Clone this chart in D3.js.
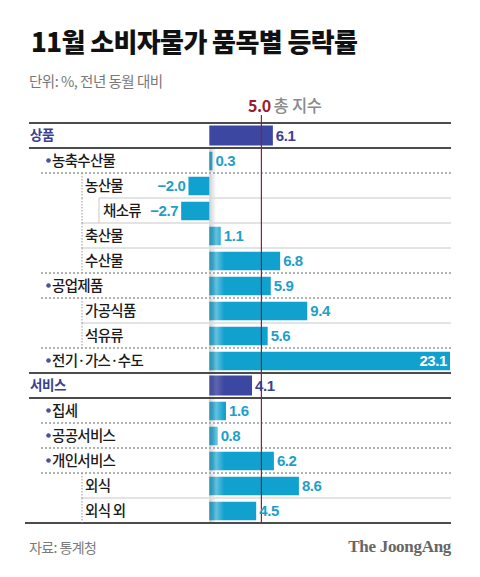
<!DOCTYPE html>
<html><head><meta charset="utf-8">
<script src="https://cdn.jsdelivr.net/npm/d3@7"></script>
<style>
html,body{margin:0;padding:0;background:#fff;}
svg{display:block;}
</style>
</head><body>
<script>
const labels = ["상품","농축수산물","농산물","채소류","축산물","수산물","공업제품","가공식품","석유류","전기·가스·수도","서비스","집세","공공서비스","개인서비스","외식","외식 외"];
const values = [6.1,0.3,-2.0,-2.7,1.1,6.8,5.9,9.4,5.6,23.1,4.1,1.6,0.8,6.2,8.6,4.5];
const levels = [0,1,2,3,2,2,1,2,2,1,0,1,1,1,2,2];
const totalIndex = 5.0;
const totalLabel = "총 지수";
const title = "11월 소비자물가 품목별 등락률";
const subtitle = "단위: %, 전년 동월 대비";
const source = "자료: 통계청";
const brand = "The JoongAng";

const W = 480, H = 577;
const svg = d3.select("body").append("svg").attr("width", W).attr("height", H);
const KR = "'Noto Sans CJK KR','Noto Sans',sans-serif";
const NUM = "'Liberation Sans',Arial,sans-serif";

const x = d3.scaleLinear().domain([0, 23.1]).range([209.3, 450]);
const y = d3.scaleBand().domain(d3.range(labels.length)).range([123, 523]);
const rowH = y.bandwidth();

const navy = "#3b47a0", cyan = "#10a1cf", cyanText = "#1e9fca", navyText = "#3a4190", red = "#9a1c2f";
const textLeft = [30, 52, 85, 103];

// defs
const defs = svg.append("defs");
const g1 = defs.append("linearGradient").attr("id","shade").attr("x1","0").attr("x2","1").attr("y1","0").attr("y2","0");
g1.append("stop").attr("offset","0").attr("stop-color","#6a6a6a").attr("stop-opacity",0.35);
g1.append("stop").attr("offset","0.2").attr("stop-color","#999").attr("stop-opacity",0.25);
g1.append("stop").attr("offset","0.45").attr("stop-color","#fff").attr("stop-opacity",0.35);
g1.append("stop").attr("offset","1").attr("stop-color","#fff").attr("stop-opacity",0);

// title
svg.append("text").attr("x", 31).attr("y", 52).text(title)
  .attr("font-family", KR).attr("font-weight", 900).attr("font-size", 26)
  .attr("letter-spacing", -0.6).attr("fill", "#111");
svg.append("text").attr("x", 29).attr("y", 87).text(subtitle)
  .attr("font-family", KR).attr("font-size", 14.5).attr("letter-spacing", -0.5).attr("fill", "#787878");

// bars
const bars = svg.append("g");
labels.forEach((l, i) => {
  const v = values[i], lv = levels[i];
  const top = lv === 0;
  const bh = top ? 20 : 18.5;
  const by = y(i) + (rowH - bh) / 2 + (top ? 0 : 0.5);
  const x0 = x(Math.min(0, v)), x1 = x(Math.max(0, v));
  bars.append("rect").attr("x", x0).attr("y", by).attr("width", x1 - x0).attr("height", bh)
    .attr("fill", top ? navy : cyan);
  if (i > 0) {
    bars.append("rect").attr("x", x(0)).attr("y", y(i) + 0.5).attr("width", 15).attr("height", rowH - 1)
      .attr("fill", "url(#shade)").attr("opacity", top ? 0.5 : 1);
  }
});

// separators
const seps = svg.append("g");
labels.forEach((l, i) => {
  const yb = y(i) + rowH;
  const cur = levels[i], nxt = i + 1 < labels.length ? levels[i + 1] : 0;
  let x1, stroke, dash = null, sw = 1;
  if (cur === 0 || nxt === 0) { x1 = 29; stroke = "#111"; sw = 1.3; }
  else if (cur === 1 || nxt === 1) { x1 = 41; stroke = "#666"; dash = "2,2"; }
  else if (nxt === 3) { x1 = 99; stroke = "#c8c8c8"; }
  else { x1 = 82; stroke = "#c8c8c8"; }
  if (i === labels.length - 1) x1 = 25;
  seps.append("line").attr("x1", x1).attr("x2", 451).attr("y1", yb).attr("y2", yb)
    .attr("stroke", stroke).attr("stroke-width", sw).attr("stroke-dasharray", dash);
});
seps.append("line").attr("x1", 29).attr("x2", 451).attr("y1", y(0)).attr("y2", y(0))
  .attr("stroke", "#111").attr("stroke-width", 1.3);

// vertical nested guides
labels.forEach((l, i) => {
  const lv = levels[i];
  if (lv >= 2) {
    svg.append("line").attr("x1", 82).attr("x2", 82).attr("y1", y(i)).attr("y2", y(i) + rowH)
      .attr("stroke", "#999").attr("stroke-dasharray", "1.5,1.5");
  }
  if (lv === 3) {
    svg.append("line").attr("x1", 99).attr("x2", 99).attr("y1", y(i)).attr("y2", y(i) + rowH)
      .attr("stroke", "#c8c8c8");
  }
});

// total index line
svg.append("line").attr("x1", x(totalIndex)).attr("x2", x(totalIndex)).attr("y1", 115).attr("y2", 523)
  .attr("stroke", red).attr("stroke-width", 1.2);
const tl = svg.append("text").attr("y", 112).attr("font-size", 16);
tl.append("tspan").attr("x", 248).text(d3.format(".1f")(totalIndex))
  .attr("font-family", KR).attr("font-weight", 700).attr("fill", red).attr("letter-spacing", -0.5);
tl.append("tspan").attr("dx", 3).text(totalLabel)
  .attr("font-family", KR).attr("font-weight", 500).attr("font-size", 16.5).attr("fill", "#8a8a8a").attr("letter-spacing", -0.3);

// row labels
labels.forEach((l, i) => {
  const lv = levels[i];
  const cy = y(i) + rowH / 2;
  if (lv === 1) {
    svg.append("circle").attr("cx", 48.5).attr("cy", cy).attr("r", 2.3).attr("fill", "#4a5590");
  }
  svg.append("text").attr("x", textLeft[lv]).attr("y", cy).attr("dy", "0.36em").text(l)
    .attr("font-family", KR).attr("font-weight", lv === 0 ? 700 : 500)
    .attr("font-size", lv === 0 ? 13.5 : 14.5).attr("letter-spacing", lv === 0 ? -0.4 : -0.7)
    .attr("fill", lv === 0 ? navyText : "#1a1a1a");
});

// value labels
labels.forEach((l, i) => {
  const v = values[i], lv = levels[i];
  const cy = y(i) + rowH / 2;
  const t = svg.append("text").attr("y", cy).attr("dy", "0.36em")
    .attr("font-family", NUM).attr("font-weight", 700).attr("font-size", 15).attr("letter-spacing", -0.4);
  const txt = (v < 0 ? "\u2212" : "") + d3.format(".1f")(Math.abs(v));
  t.text(txt);
  if (v < 0) {
    t.attr("x", x(v) - 3).attr("text-anchor", "end").attr("fill", cyanText);
  } else if (x(v) > 420) {
    t.attr("x", x(v) - 3).attr("text-anchor", "end").attr("fill", "#fff");
  } else {
    t.attr("x", x(v) + 3).attr("fill", lv === 0 ? navyText : cyanText);
  }
});

// footer
svg.append("text").attr("x", 29).attr("y", 553).text(source)
  .attr("font-family", KR).attr("font-size", 14).attr("letter-spacing", -0.6).attr("fill", "#7a7a7a");
svg.append("text").attr("x", 451).attr("y", 552).attr("text-anchor", "end").text(brand)
  .attr("font-family", "'Liberation Serif','Times New Roman',serif").attr("font-weight", 700)
  .attr("font-size", 17).attr("letter-spacing", -0.3).attr("fill", "#666");
</script>
</body></html>
